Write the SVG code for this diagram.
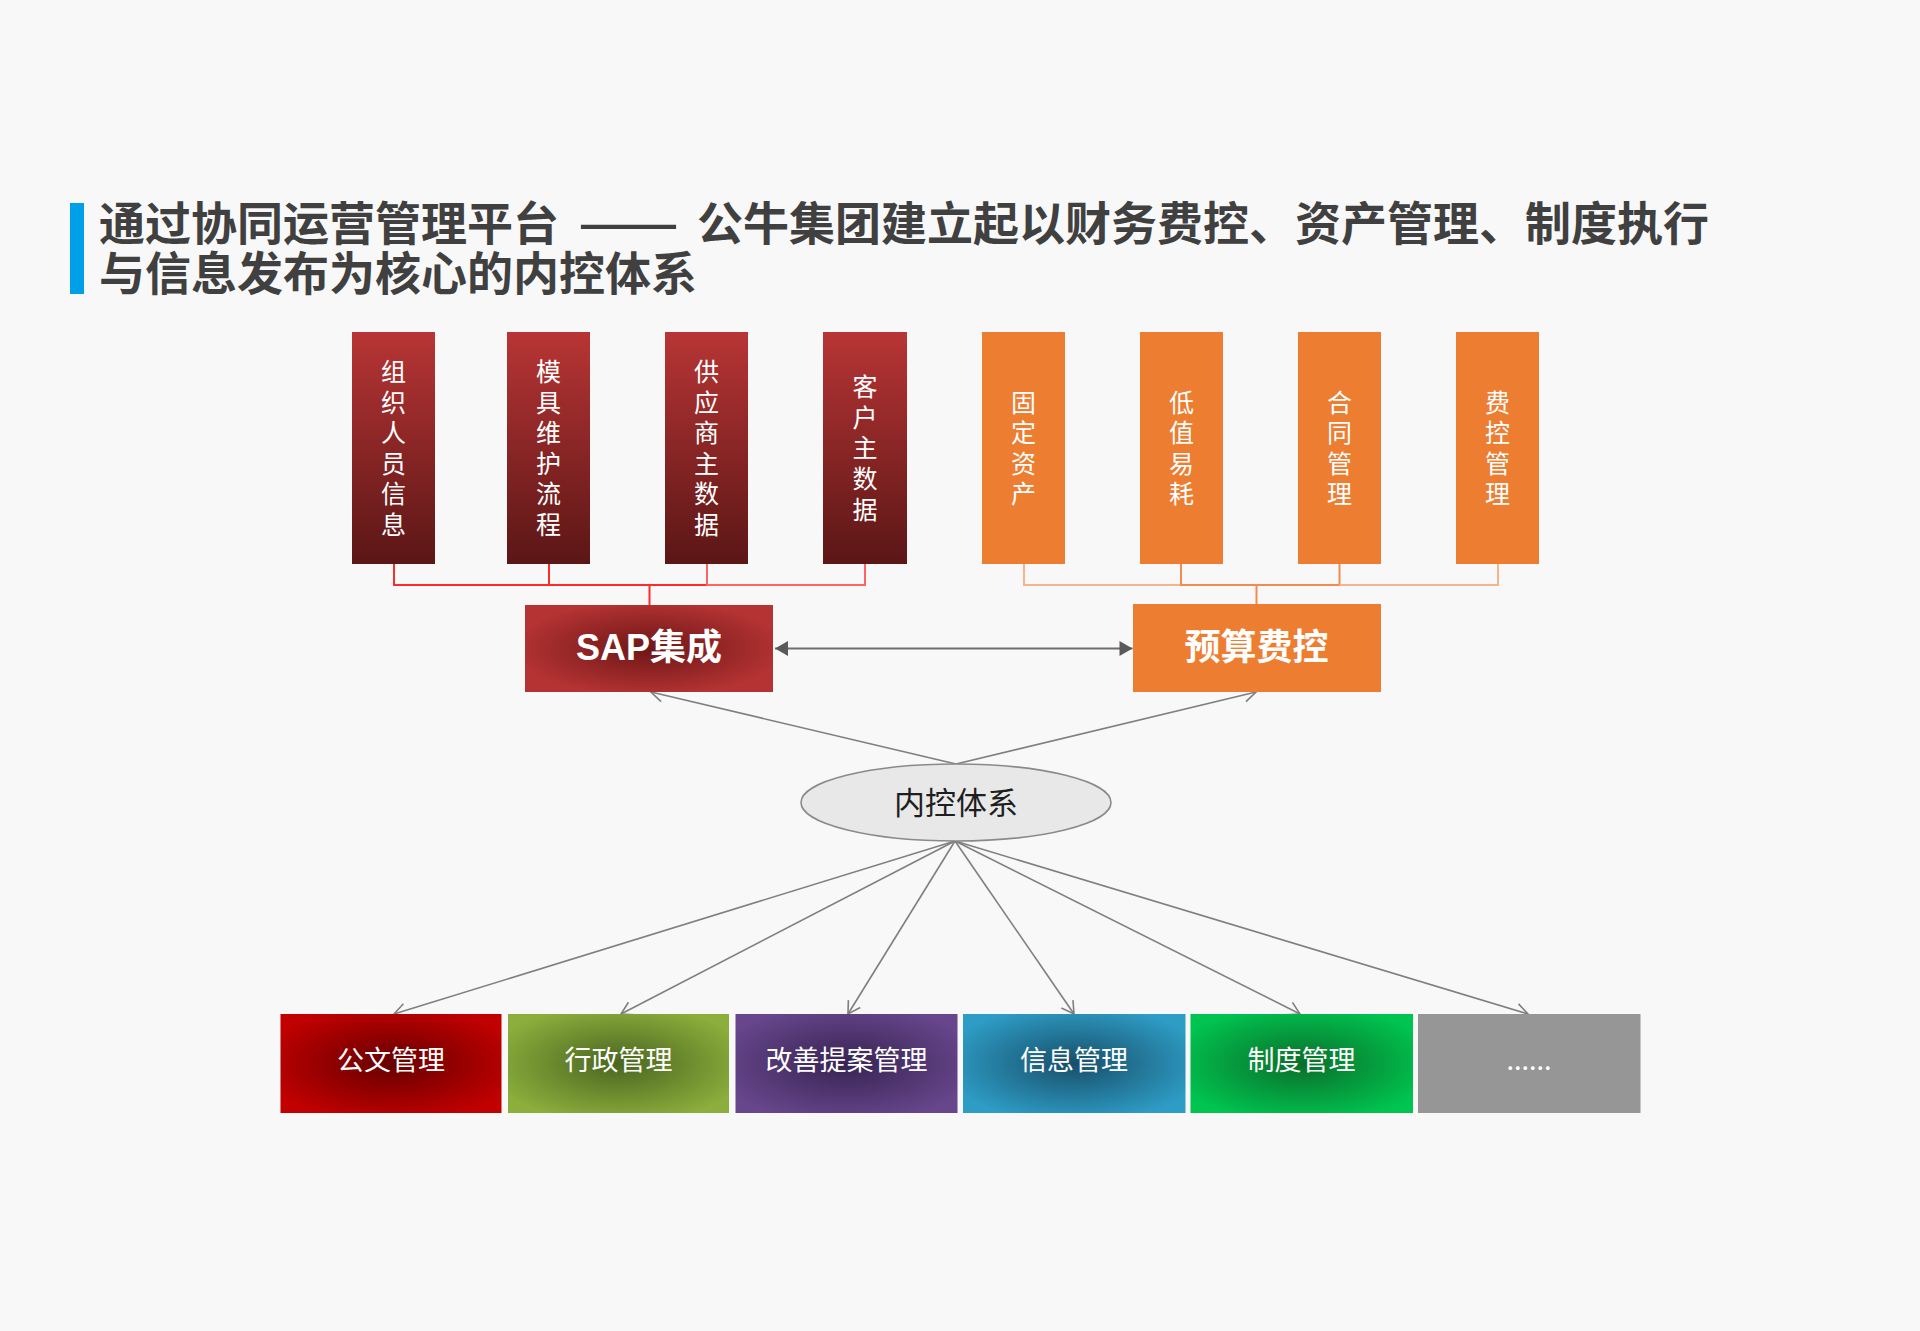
<svg xmlns="http://www.w3.org/2000/svg" width="1920" height="1331" viewBox="0 0 1920 1331">
<style>
.title{font-family:"Noto Sans CJK SC","Noto Sans",sans-serif;font-weight:bold;font-size:46px;fill:#404040}
.vt{font-family:"Noto Sans CJK SC",sans-serif;font-size:25px;fill:#ffffff;text-anchor:middle;writing-mode:vertical-rl;letter-spacing:5.6px}
.big{font-family:"Liberation Sans","Noto Sans CJK SC",sans-serif;font-weight:bold;font-size:36px;fill:#ffffff;text-anchor:middle}
.bt{font-family:"Noto Sans CJK SC",sans-serif;font-size:27px;fill:#ffffff;text-anchor:middle}
.et{font-family:"Noto Sans CJK SC",sans-serif;font-size:31px;fill:#1e1e1e;text-anchor:middle}
.con{fill:none;stroke:#7f7f7f;stroke-width:1.6;marker-end:url(#open)}
</style>
<defs>
<linearGradient id="redV" x1="0" y1="0" x2="0" y2="1">
<stop offset="0" stop-color="#b83535"/><stop offset="1" stop-color="#5b1616"/>
</linearGradient>
<radialGradient id="sapG" cx="0.5" cy="0.5" r="0.55">
<stop offset="0" stop-color="#6e1616"/><stop offset="1" stop-color="#b53333"/>
</radialGradient>
<radialGradient id="gA" cx="0.5" cy="0.5" r="0.6"><stop offset="0" stop-color="#660000"/><stop offset="1" stop-color="#c20000"/></radialGradient>
<radialGradient id="gB" cx="0.5" cy="0.5" r="0.6"><stop offset="0" stop-color="#4a6620"/><stop offset="1" stop-color="#8cae3c"/></radialGradient>
<radialGradient id="gC" cx="0.5" cy="0.5" r="0.6"><stop offset="0" stop-color="#372452"/><stop offset="1" stop-color="#67468c"/></radialGradient>
<radialGradient id="gD" cx="0.5" cy="0.5" r="0.6"><stop offset="0" stop-color="#184f6a"/><stop offset="1" stop-color="#2e9dc6"/></radialGradient>
<radialGradient id="gE" cx="0.5" cy="0.5" r="0.6"><stop offset="0" stop-color="#0a6e2a"/><stop offset="1" stop-color="#00c450"/></radialGradient>
<marker id="open" markerUnits="userSpaceOnUse" markerWidth="16" markerHeight="16" refX="12" refY="7" orient="auto" overflow="visible">
<path d="M0,0 L12,7 L0,14" fill="none" stroke="#7f7f7f" stroke-width="1.6"/>
</marker>
<marker id="tri" markerUnits="userSpaceOnUse" markerWidth="16" markerHeight="16" refX="13" refY="7.5" orient="auto-start-reverse" overflow="visible">
<path d="M0,0 L13,7.5 L0,15 z" fill="#5a5a5a"/>
</marker>
</defs>
<rect x="0" y="0" width="1920" height="1331" fill="#f8f8f8"/>

<g id="title">
<rect x="70" y="203" width="14" height="91" fill="#00a0e9"/>
<text class="title"><tspan x="99" y="240">通过协同运营管理平台</tspan><tspan x="578" y="240" textLength="101" lengthAdjust="spacingAndGlyphs">——</tspan><tspan x="697" y="240">公牛集团建立起以财务费控、资产管理、制度执行</tspan><tspan x="99" y="290">与信息发布为核心的内控体系</tspan></text>
</g>

<g id="connectors">
<path d="M394,564 V585 H707" stroke="#ff2a2a" stroke-width="2" fill="none"/>
<path d="M549,564 V585" stroke="#ff2a2a" stroke-width="2"/>
<path d="M707,564 V585 H865 V564" stroke="#ff6464" stroke-width="2" fill="none"/>
<path d="M649.5,585 V605" stroke="#ff2a2a" stroke-width="2"/>
<path d="M1024,564 V585 H1181" stroke="#f5b48c" stroke-width="2" fill="none"/>
<path d="M1181,564 V585 H1339.5 V564" stroke="#f08c50" stroke-width="2" fill="none"/>
<path d="M1339.5,585 H1498 V564" stroke="#f5b48c" stroke-width="2" fill="none"/>
<path d="M1256.5,585 V604" stroke="#f08c50" stroke-width="2"/>
<line x1="775" y1="648.5" x2="1132.5" y2="648.5" stroke="#6e6e6e" stroke-width="2" marker-start="url(#tri)" marker-end="url(#tri)"/>
<line class="con" x1="956" y1="764" x2="651" y2="692"/>
<line class="con" x1="956" y1="764" x2="1256" y2="692"/>
<line class="con" x1="955" y1="841" x2="394" y2="1014"/>
<line class="con" x1="955" y1="841" x2="621" y2="1014"/>
<line class="con" x1="955" y1="841" x2="848" y2="1014"/>
<line class="con" x1="955" y1="841" x2="1074" y2="1014"/>
<line class="con" x1="955" y1="841" x2="1300" y2="1014"/>
<line class="con" x1="955" y1="841" x2="1528" y2="1014"/>
</g>

<g id="n-zuzhi">
<rect x="352" y="332" width="83" height="232" fill="url(#redV)"/>
<text class="vt" x="393.5" y="450.8">组织人员信息</text>
</g>
<g id="n-moju">
<rect x="507" y="332" width="83" height="232" fill="url(#redV)"/>
<text class="vt" x="548.5" y="450.8">模具维护流程</text>
</g>
<g id="n-gongying">
<rect x="665" y="332" width="83" height="232" fill="url(#redV)"/>
<text class="vt" x="706.5" y="450.8">供应商主数据</text>
</g>
<g id="n-kehu">
<rect x="823" y="332" width="84" height="232" fill="url(#redV)"/>
<text class="vt" x="865" y="450.8">客户主数据</text>
</g>
<g id="n-guding">
<rect x="982" y="332" width="83" height="232" fill="#ed7d31"/>
<text class="vt" x="1023.5" y="450.8">固定资产</text>
</g>
<g id="n-dizhi">
<rect x="1140" y="332" width="83" height="232" fill="#ed7d31"/>
<text class="vt" x="1181.5" y="450.8">低值易耗</text>
</g>
<g id="n-hetong">
<rect x="1298" y="332" width="83" height="232" fill="#ed7d31"/>
<text class="vt" x="1339.5" y="450.8">合同管理</text>
</g>
<g id="n-feikong">
<rect x="1456" y="332" width="83" height="232" fill="#ed7d31"/>
<text class="vt" x="1497.5" y="450.8">费控管理</text>
</g>

<g id="n-sap">
<rect x="525" y="605" width="248" height="87" fill="url(#sapG)"/>
<text class="big" x="649" y="660">SAP集成</text>
</g>
<g id="n-yusuan">
<rect x="1133" y="604" width="248" height="88" fill="#ed7d31"/>
<text class="big" x="1256.5" y="660">预算费控</text>
</g>

<g id="n-neikong">
<ellipse cx="956" cy="802.5" rx="155" ry="38.5" fill="#e8e8e8" stroke="#8a8a8a" stroke-width="1.6"/>
<text class="et" x="956" y="814">内控体系</text>
</g>

<g id="n-gongwen">
<rect x="280.5" y="1014" width="221" height="99" fill="url(#gA)"/>
<text class="bt" x="391" y="1070">公文管理</text>
</g>
<g id="n-xingzheng">
<rect x="508" y="1014" width="221" height="99" fill="url(#gB)"/>
<text class="bt" x="618.5" y="1070">行政管理</text>
</g>
<g id="n-gaishan">
<rect x="735.5" y="1014" width="222" height="99" fill="url(#gC)"/>
<text class="bt" x="846.5" y="1070">改善提案管理</text>
</g>
<g id="n-xinxi">
<rect x="963" y="1014" width="222.5" height="99" fill="url(#gD)"/>
<text class="bt" x="1074" y="1070">信息管理</text>
</g>
<g id="n-zhidu">
<rect x="1190.5" y="1014" width="222.5" height="99" fill="url(#gE)"/>
<text class="bt" x="1301.5" y="1070">制度管理</text>
</g>
<g id="n-more">
<rect x="1418" y="1014" width="222.5" height="99" fill="#969696"/>
<text class="bt" x="1529" y="1070">......</text>
</g>
</svg>
